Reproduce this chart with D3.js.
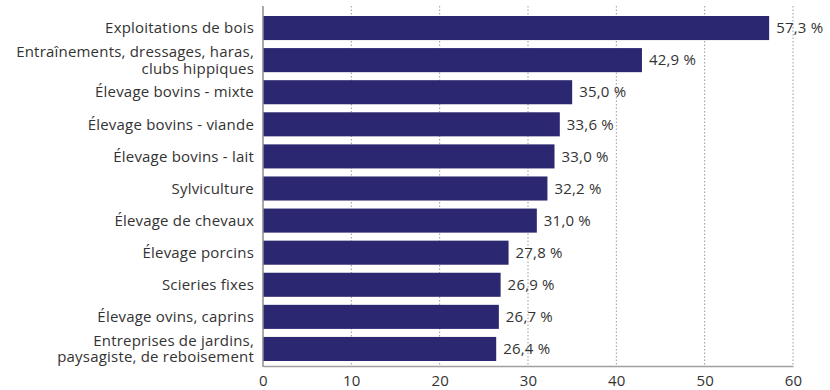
<!DOCTYPE html>
<html>
<head>
<meta charset="utf-8">
<script src="https://cdn.jsdelivr.net/npm/d3@7"></script>
<style>
  body { margin: 0; background: #fff; }
  svg { display: block; }
  text { font-family: "Open Sans", "Noto Sans", sans-serif; fill: #333; letter-spacing: 0.2px; }
</style>
</head>
<body>
<svg id="chart" width="830" height="390"></svg>
<script>
// Activity sectors (label lines) and their rates, in %
const categories = [
  ["Exploitations de bois"],
  ["Entraînements, dressages, haras,", "clubs hippiques"],
  ["Élevage bovins - mixte"],
  ["Élevage bovins - viande"],
  ["Élevage bovins - lait"],
  ["Sylviculture"],
  ["Élevage de chevaux"],
  ["Élevage porcins"],
  ["Scieries fixes"],
  ["Élevage ovins, caprins"],
  ["Entreprises de jardins,", "paysagiste, de reboisement"]
];
const values = [57.3, 42.9, 35.0, 33.6, 33.0, 32.2, 31.0, 27.8, 26.9, 26.7, 26.4];
const xTicks = [0, 10, 20, 30, 40, 50, 60];

const svg = d3.select("#chart");
const plotLeft = 263, plotRight = 793, plotTop = 11, plotBottom = 366;
const fontSize = 15;

const x = d3.scaleLinear().domain([0, 60]).range([plotLeft, plotRight]);
const y = d3.scaleBand()
  .domain(d3.range(values.length))
  .range([plotTop, plotBottom])
  .paddingInner(0.25)
  .paddingOuter(0.156);

// dotted vertical gridlines
svg.append("g")
  .selectAll("line")
  .data(xTicks.filter(d => d > 0))
  .join("line")
  .attr("x1", d => x(d)).attr("x2", d => x(d))
  .attr("y1", 6).attr("y2", plotBottom)
  .attr("stroke", "#9a9a9a")
  .attr("stroke-width", 1)
  .attr("stroke-dasharray", "1.5,2");

// bars
svg.append("g")
  .selectAll("rect")
  .data(values)
  .join("rect")
  .attr("x", x(0))
  .attr("y", (d, i) => y(i))
  .attr("width", d => x(d) - x(0))
  .attr("height", y.bandwidth())
  .attr("fill", "#2b2771");

// value labels
const fmt = v => v.toFixed(1).replace(".", ",") + " %";
svg.append("g")
  .selectAll("text")
  .data(values)
  .join("text")
  .attr("x", d => x(d) + 7)
  .attr("y", (d, i) => y(i) + y.bandwidth() / 2)
  .attr("dy", "0.35em")
  .attr("font-size", fontSize)
  .text(d => fmt(d));

// category labels
const lineH = 16.5;
svg.append("g")
  .selectAll("text")
  .data(categories)
  .join("text")
  .attr("text-anchor", "end")
  .attr("font-size", fontSize)
  .attr("x", 254)
  .attr("y", (d, i) => y(i) + y.bandwidth() / 2 - (d.length - 1) * lineH / 2)
  .each(function(lines) {
    const t = d3.select(this);
    lines.forEach((ln, k) => {
      t.append("tspan")
        .attr("x", 254)
        .attr("dy", k === 0 ? "0.35em" : lineH + "px")
        .text(ln);
    });
  });

// left and bottom axis lines
svg.append("line")
  .attr("x1", plotLeft).attr("x2", plotLeft)
  .attr("y1", 6).attr("y2", plotBottom + 1)
  .attr("stroke", "#8c8c8c").attr("stroke-width", 1.5);

const xAxis = svg.append("g")
  .attr("transform", `translate(0,${plotBottom})`)
  .call(d3.axisBottom(x).tickValues(xTicks).tickSize(0).tickPadding(9).tickFormat(d3.format("d")));
xAxis.select(".domain").attr("stroke", "#a0a0a0").attr("stroke-width", 1.5);
xAxis.selectAll("text")
  .attr("font-size", fontSize)
  .attr("font-family", "'Open Sans', 'Noto Sans', sans-serif")
  .attr("fill", "#333");
</script>
</body>
</html>
